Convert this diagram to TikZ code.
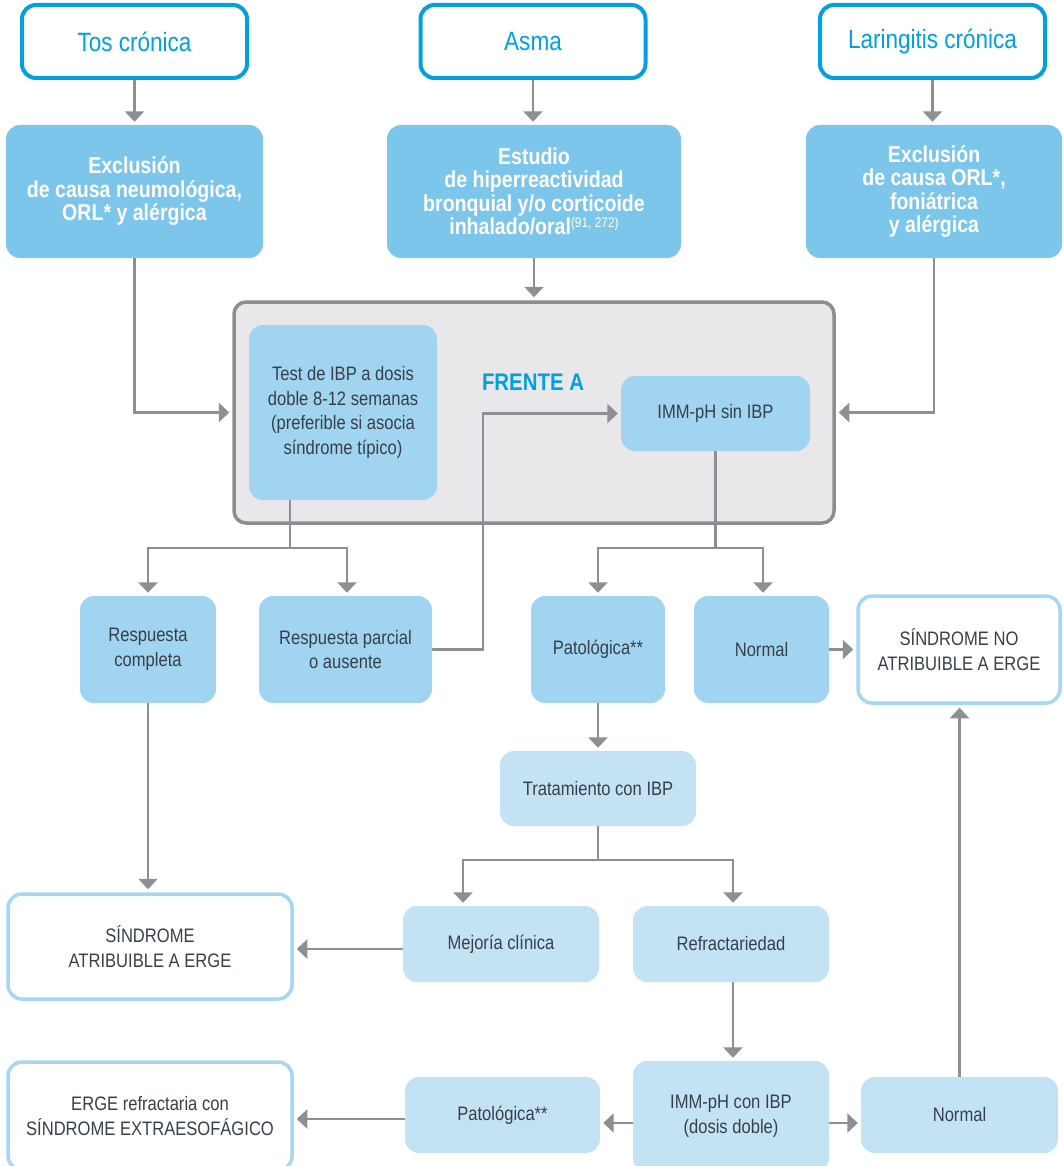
\documentclass[tikz,border=0pt]{standalone}
\usepackage{fontspec}
\setmainfont[FakeStretch=0.85]{Liberation Sans}
\usetikzlibrary{arrows.meta}

\definecolor{cyanhead}{RGB}{0,160,225}
\definecolor{blueA}{RGB}{124,197,235}
\definecolor{blueB}{RGB}{160,212,240}
\definecolor{blueC}{RGB}{195,227,245}
\definecolor{blueEdge}{RGB}{165,214,242}
\definecolor{txtdark}{RGB}{55,64,74}
\definecolor{arrowgray}{RGB}{140,143,148}
\definecolor{framegray}{RGB}{140,140,145}
\definecolor{framefill}{RGB}{233,231,234}

\tikzset{
  base/.style={rounded corners=14pt, align=center, inner sep=0pt, text=txtdark,
    font=\fontsize{19.5}{24.5}\selectfont},
  headbox/.style={base, draw=cyanhead, line width=4pt, fill=white, text=cyanhead,
    font=\fontsize{26.5}{30}\selectfont, minimum width=225pt, minimum height=73pt},
  stepA/.style={base, fill=blueA, text=white, font=\bfseries\fontsize{23}{23.5}\selectfont,
    minimum height=133pt},
  stepB/.style={base, fill=blueB},
  stepC/.style={base, fill=blueC},
  endbox/.style={base, draw=blueEdge, line width=3.5pt, fill=white},
  framebox/.style={rounded corners=12pt, draw=framegray, line width=3.5pt, fill=framefill,
    inner sep=0pt},
  conn/.style={draw=arrowgray, line width=2.7pt},
  arr/.style={conn, -{Triangle[width=19pt,length=10.5pt]}, shorten >=3pt},
}

\begin{document}
\begin{tikzpicture}[x=1pt,y=-1pt]
\useasboundingbox (0,0) rectangle (1064,1166);

% entry conditions
\node[headbox] (tos)  at (134.5,41.5) {Tos crónica};
\node[headbox] (asma) at (533,41.5)   {Asma};
\node[headbox] (lar)  at (932.5,41.5) {Laringitis crónica};

% exclusion studies
\node[stepA, minimum width=257pt] (exc1) at (134.5,191.5)
  {Exclusión\\de causa neumológica,\\ORL* y alérgica};
\node[stepA, minimum width=294pt] (est) at (534,191.5)
  {Estudio\\de hiperreactividad\\bronquial y/o corticoide\\inhalado/oral{\mdseries\fontsize{14}{14}\selectfont\raisebox{7pt}{(91, 272)}}};
\node[stepA, minimum width=256pt] (exc2) at (934,191.5)
  {Exclusión\\de causa ORL*,\\foniátrica\\y alérgica};

% front A
\node[framebox, minimum width=600pt, minimum height=221pt] (frente) at (534,412.5) {};
\node[font=\bfseries\fontsize{24}{24}\selectfont, text=cyanhead] (lbl) at (533,382) {FRENTE A};
\node[stepB, minimum width=188pt, minimum height=175pt] (test) at (343,412.5)
  {Test de IBP a dosis\\doble 8-12 semanas\\(preferible si asocia\\síndrome típico)};
\node[stepB, minimum width=189pt, minimum height=75pt] (imms) at (715.5,413.5) {IMM-pH sin IBP};

% first results
\node[stepB, minimum width=136pt, minimum height=107pt] (rc)  at (148,649.5)   {Respuesta\\completa};
\node[stepB, minimum width=173pt, minimum height=107pt] (rp)  at (345.5,649.5) {Respuesta parcial\\o ausente};
\node[stepB, minimum width=134pt, minimum height=107pt] (pat) at (598,649.5)   {Patológica**};
\node[stepB, minimum width=135pt, minimum height=107pt] (nor) at (761.5,649.5) {Normal};
\node[endbox, minimum width=202pt, minimum height=107pt] (sno) at (959,649.5)
  {SÍNDROME NO\\ATRIBUIBLE A ERGE};

% treatment
\node[stepC, minimum width=196pt, minimum height=75pt] (trat) at (598,788.5) {Tratamiento con IBP};
\node[stepC, minimum width=196pt, minimum height=76pt] (mej)  at (501,944)   {Mejoría clínica};
\node[stepC, minimum width=196pt, minimum height=76pt] (ref)  at (731,944)   {Refractariedad};
\node[endbox, minimum width=284pt, minimum height=105pt] (sa) at (150,946.5)
  {SÍNDROME\\ATRIBUIBLE A ERGE};

% second study
\node[stepC, minimum width=196pt, minimum height=111pt] (immc) at (731,1116.5)
  {IMM-pH con IBP\\(dosis doble)};
\node[stepC, minimum width=195pt, minimum height=76pt] (pat2) at (502.5,1115) {Patológica**};
\node[stepC, minimum width=197pt, minimum height=76pt] (nor2) at (959.5,1115) {Normal};
\node[endbox, minimum width=284pt, minimum height=108pt] (erge) at (150,1116)
  {ERGE refractaria con\\SÍNDROME EXTRAESOFÁGICO};

% junction points
\coordinate (sA) at (290,548);
\coordinate (sB) at (715.5,548);
\coordinate (bend) at (483,548);
\coordinate (sC) at (598,860);
\coordinate (mx) at (463,0);
\coordinate (rx) at (733,0);

% connectors
\draw[arr] (tos.south) -- (tos.south |- exc1.north);
\draw[arr] (asma.south) -- (asma.south |- est.north);
\draw[arr] (lar.south) -- (lar.south |- exc2.north);

\draw[arr] (exc1.south) |- (frente.west);
\draw[arr] (est.south) -- (est.south |- frente.north);
\draw[arr] (exc2.south) |- (frente.east);

\draw[conn] (sA |- test.south) -- (sA);
\draw[arr] (sA) -| (rc.north);
\draw[arr] (sA) -| ([xshift=1.5pt]rp.north);
\draw[arr] (rp.east) -| (bend) |- (imms.west);

\draw[conn] (imms.south) -- (sB);
\draw[arr] (sB) -| (pat.north);
\draw[arr] (sB) -| ([xshift=1.5pt]nor.north);
\draw[arr] (nor.east) -- (sno.west);

\draw[arr] (pat.south) -- (trat.north);
\draw[conn] (trat.south) -- (sC);
\draw[arr] (sC) -| (mx |- mej.north);
\draw[arr] (sC) -| (rx |- ref.north);

\draw[arr] (rc.south) -- (rc.south |- sa.north);
\draw[arr] ([yshift=-5pt]mej.west) -- ([yshift=-5pt]mej.west -| sa.east);
\draw[arr] (rx |- ref.south) -- (rx |- immc.north);

\draw[arr] ([yshift=-6.5pt]immc.west) -- ([yshift=-6.5pt]immc.west -| pat2.east);
\draw[arr] ([yshift=-6.5pt]immc.east) -- ([yshift=-6.5pt]immc.east -| nor2.west);
\draw[arr] ([yshift=-4pt]pat2.west) -- ([yshift=-4pt]pat2.west -| erge.east);
\draw[arr] (nor2.north) -- (nor2.north |- sno.south);
\end{tikzpicture}
\end{document}
